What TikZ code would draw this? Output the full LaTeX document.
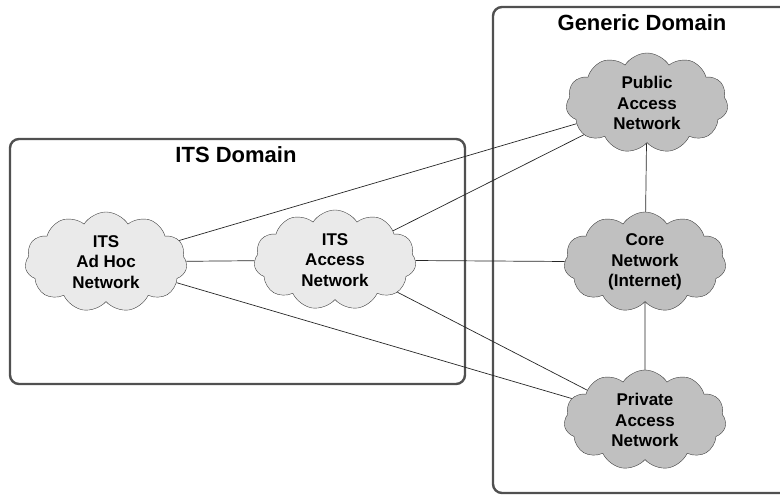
\documentclass[tikz,border=0pt]{standalone}
\usepackage{fontspec}
\setmainfont{Liberation Sans}
\usetikzlibrary{shapes.symbols}
\definecolor{itsgray}{RGB}{234,234,234}
\definecolor{gengray}{RGB}{192,192,192}
\definecolor{boxgray}{RGB}{80,80,80}
\begin{document}
\begin{tikzpicture}[x=1pt,y=-1pt]
        % Define styles
        \tikzset{
            domainbox/.style={draw=boxgray, line width=2.4pt, rounded corners=9pt},
            title/.style={font=\fontsize{22}{24}\selectfont\bfseries},
            net/.style={cloud, cloud puffs=11, cloud puff arc=115, aspect=1.6, draw=black!75, thin,
                minimum width=162pt, minimum height=100pt, align=center,
                font=\fontsize{17}{20.5}\selectfont\bfseries, inner sep=-6pt},
            itsnet/.style={net, fill=itsgray},
            gennet/.style={net, fill=gengray},
            link/.style={draw=black!85, line width=0.7pt}
        }
        \useasboundingbox (0,0) rectangle (780,497);
        \clip (0,0) rectangle (780,497);
        % Domain boxes
        \draw[domainbox] (10,139) rectangle (465,384);
        \node[title] (itsdom) at (236,155) {ITS Domain};
        \draw[domainbox] (493,7) rectangle (800,493);
        \node[title] (gendom) at (642,23) {Generic Domain};
        % Cloud centres
        \coordinate (adhocC) at (106,262);
        \coordinate (accessC) at (335,260);
        \coordinate (publicC) at (647,103);
        \coordinate (coreC) at (645,262);
        \coordinate (privateC) at (645,420);
        % Clouds
        \node[itsnet] (adhoc) at (adhocC) {ITS\\Ad Hoc\\Network};
        \node[itsnet] (access) at (accessC) {ITS\\Access\\Network};
        \node[gennet] (public) at (publicC) {Public\\Access\\Network};
        \node[gennet] (core) at (coreC) {Core\\Network\\(Internet)};
        \node[gennet] (private) at (privateC) {Private\\Access\\Network};
        % Links between networks
        \draw[link] (adhoc) -- (access);
        \draw[link] (adhoc) -- (public);
        \draw[link] (adhoc) -- (private);
        \draw[link] (access) -- (public);
        \draw[link] (access) -- (core);
        \draw[link] (access) -- (private);
        \draw[link] (public) -- (core);
        \draw[link] (core) -- (private);
    \end{tikzpicture}
\end{document}
